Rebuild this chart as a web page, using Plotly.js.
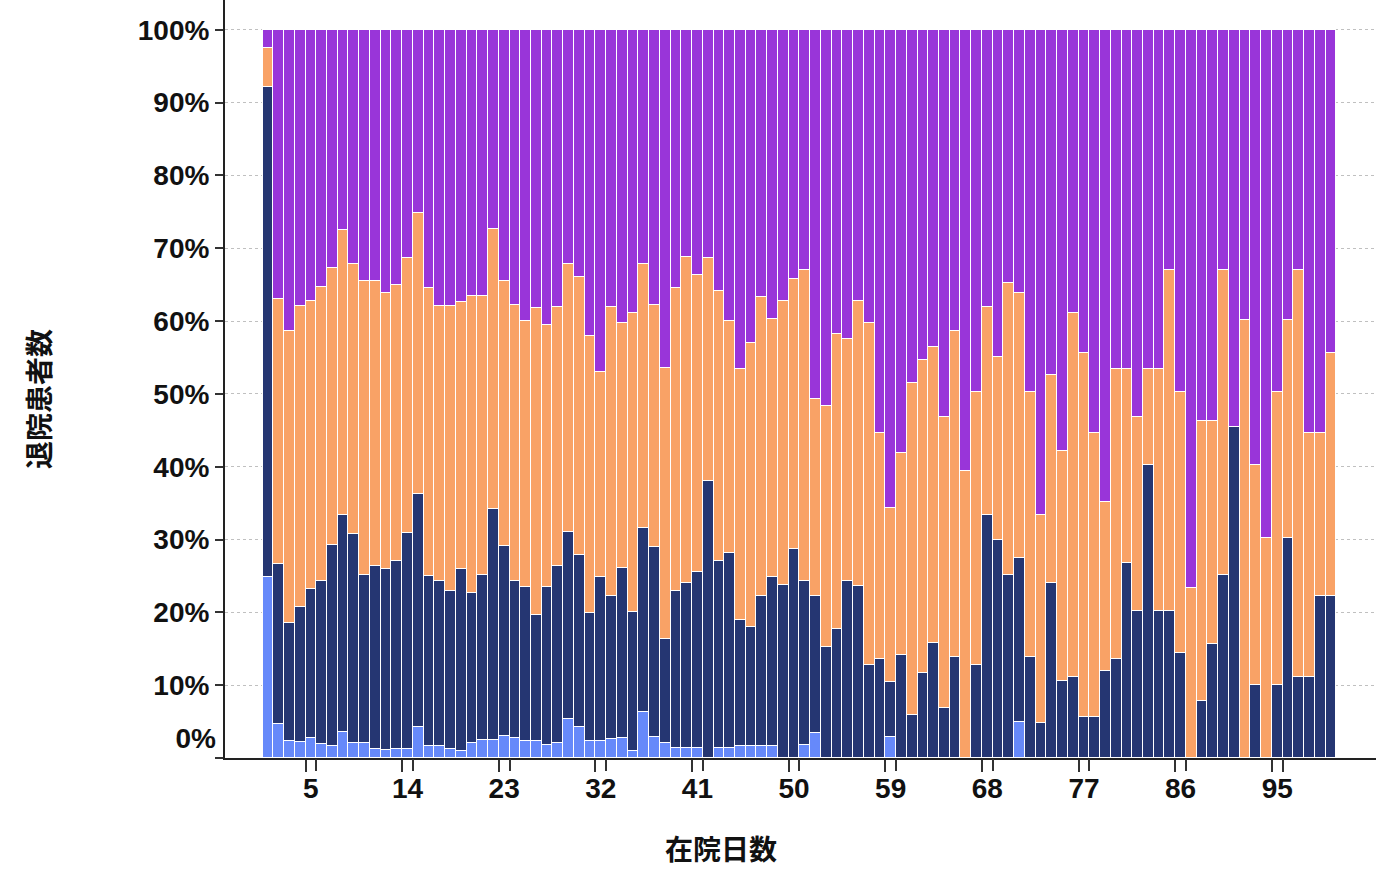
<!DOCTYPE html>
<html>
<head>
<meta charset="utf-8">
<script src="https://cdn.plot.ly/plotly-3.0.1.min.js"></script>
<style>html,body{margin:0;padding:0;background:#fff;}</style>
</head>
<body>
<div id="chart" style="width:1383px;height:877px;"></div>
<script>
// 在院日数 (days 1..100)
const days = [];
for (let d = 1; d <= 100; d++) days.push(String(d));

const xTickLabels = ['5','14','23','32','41','50','59','68','77','86','95'];
const yTickValues = [0,10,20,30,40,50,60,70,80,90,100];

// cumulative top (%) of each stacked band
const lightBlueTop = [24.8,4.7,2.4,2.2,2.7,1.9,1.6,3.6,2.0,2.0,
  1.3,1.1,1.3,1.3,4.3,1.6,1.6,1.2,1.0,2.1,
  2.5,2.5,3.0,2.7,2.3,2.3,1.8,2.1,5.4,4.3,
  2.3,2.3,2.6,2.7,1.0,6.3,2.9,2.0,1.4,1.4,
  1.4,0,1.4,1.4,1.6,1.6,1.6,1.6,0,0,
  1.8,3.5,0,0,0,0,0,0,2.9,0,
  0,0,0,0,0,0,0,0,0,0,
  4.9,0,0,0,0,0,0,0,0,0,
  0,0,0,0,0,0,0,0,0,0,
  0,0,0,0,0,0,0,0,0,0];
const navyTop = [92.2,26.6,18.6,20.7,23.2,24.3,29.3,33.4,30.7,25.1,
  26.4,25.9,27.1,30.9,36.2,25.0,24.3,23.0,25.9,22.7,
  25.1,34.2,29.1,24.3,23.5,19.7,23.5,26.4,31.1,27.9,
  19.9,24.8,22.3,26.1,20.1,31.6,29.0,16.3,22.9,24.0,
  25.5,38.1,27.0,28.1,19.0,18.0,22.3,24.8,23.8,28.7,
  24.3,22.3,15.2,17.7,24.3,23.6,12.8,13.6,10.5,14.1,
  5.9,11.7,15.8,6.8,13.9,0,12.8,33.4,30.0,25.1,
  27.4,13.9,4.8,24.0,10.6,11.1,5.6,5.6,11.9,13.6,
  26.8,20.2,40.3,20.2,20.2,14.4,0,7.8,15.6,25.1,
  45.5,0,10.0,0,10.0,30.2,11.1,11.1,22.3,22.3];
const orangeTop = [97.5,63.1,58.7,62.1,62.7,64.7,67.3,72.5,67.8,65.5,
  65.5,63.9,65.0,68.6,74.9,64.5,62.1,62.1,62.6,63.4,
  63.4,72.7,65.5,62.2,60.0,61.8,59.5,62.0,67.8,66.1,
  57.9,53.0,62.0,59.7,61.1,67.8,62.2,53.5,64.5,68.8,
  66.3,68.6,64.2,60.0,53.4,57.0,63.3,60.3,62.7,65.8,
  67.0,49.3,48.4,58.2,57.5,62.7,59.7,44.6,34.4,41.9,
  51.5,54.6,56.4,46.9,58.6,39.4,50.2,62.0,55.1,65.3,
  63.9,50.2,33.4,52.6,42.2,61.1,55.6,44.6,35.2,53.4,
  53.4,46.9,53.4,53.4,67.0,50.2,23.3,46.3,46.3,67.0,
  45.5,60.1,40.3,30.2,50.2,60.1,67.0,44.7,44.7,55.6];

const round1 = v => Math.round(v * 10) / 10;
const bandLightBlue = lightBlueTop.map(v => v);
const bandNavy = navyTop.map((v, i) => round1(v - lightBlueTop[i]));
const bandOrange = orangeTop.map((v, i) => round1(v - navyTop[i]));
const bandPurple = orangeTop.map(v => round1(100 - v));

const colors = ['#6689fa', '#253672', '#f9a266', '#9935d9'];
const bands = [bandLightBlue, bandNavy, bandOrange, bandPurple];
const names = ['区分1', '区分2', '区分3', '区分4'];

const traces = bands.map((vals, k) => ({
  type: 'bar',
  name: names[k],
  x: days,
  y: vals,
  marker: {color: colors[k], line: {color: '#ffffff', width: 1}},
  hovertemplate: '%{x}日: %{y:.1f}%<extra>' + names[k] + '</extra>'
}));
// empty helper traces so the overlay axes (0% label, right-edge ticks) get drawn
traces.push({type: 'scatter', x: [], y: [], xaxis: 'x', yaxis: 'y2', showlegend: false, hoverinfo: 'skip'});
traces.push({type: 'scatter', x: [], y: [], xaxis: 'x2', yaxis: 'y', showlegend: false, hoverinfo: 'skip'});

const tickFont = {family: 'Liberation Sans, Arial, sans-serif', size: 28, color: '#111', weight: 'bold'};
const titleFont = {family: 'Noto Sans CJK JP, sans-serif', size: 28, color: '#111', weight: 'bold'};

const xRange = [-4.0, 103.2];
// right boundaries of the labelled categories (index units)
const rightEdgeTicks = xTickLabels.map(l => days.indexOf(l) + 0.5);

const layout = {
  width: 1383, height: 877,
  margin: {l: 225, r: 7, t: 0, b: 119},
  paper_bgcolor: '#ffffff', plot_bgcolor: '#ffffff',
  barmode: 'stack', bargap: 0,
  showlegend: false,
  xaxis: {
    type: 'category',
    range: xRange,
    tickmode: 'array', tickvals: xTickLabels, ticktext: xTickLabels,
    tickson: 'boundaries', tickangle: 0, ticklabelstandoff: 4,
    ticks: 'outside', ticklen: 12, tickwidth: 2, tickcolor: '#333',
    showline: true, linecolor: '#222', linewidth: 2,
    showgrid: false, zeroline: false,
    tickfont: tickFont
  },
  xaxis2: {
    type: 'linear', overlaying: 'x', anchor: 'y', side: 'bottom',
    range: xRange,
    tickmode: 'array', tickvals: rightEdgeTicks, ticktext: rightEdgeTicks.map(() => ''),
    ticks: 'outside', ticklen: 12, tickwidth: 2, tickcolor: '#333',
    showline: false, showgrid: false, zeroline: false
  },
  yaxis: {
    range: [0, 104.1],
    tickmode: 'array', tickvals: yTickValues,
    ticktext: yTickValues.map(v => v === 0 ? '' : v + '%'),
    ticks: 'outside', ticklen: 8, tickwidth: 2, tickcolor: '#333',
    showline: true, linecolor: '#222', linewidth: 2,
    showgrid: true, gridcolor: '#c0c0c0', griddash: 'dot', gridwidth: 1,
    zeroline: false,
    tickfont: tickFont
  },
  yaxis2: {
    overlaying: 'y', side: 'left',
    range: [0, 104.1],
    tickmode: 'array', tickvals: [0], ticktext: ['0%'],
    ticks: '', ticklabelshift: -20, ticklabelstandoff: 8,
    showgrid: false, zeroline: false, showline: false,
    tickfont: tickFont
  },
  annotations: [
    {text: '在院日数', xref: 'paper', yref: 'paper', x: 0.431, y: -0.1187,
     xanchor: 'center', yanchor: 'middle', showarrow: false, font: titleFont},
    {text: '退院患者数', xref: 'paper', yref: 'paper', x: -0.1625, y: 0.4736,
     xanchor: 'center', yanchor: 'middle', textangle: -90, showarrow: false, font: titleFont}
  ]
};

Plotly.newPlot('chart', traces, layout, {displayModeBar: false, responsive: false});
</script>
</body>
</html>
